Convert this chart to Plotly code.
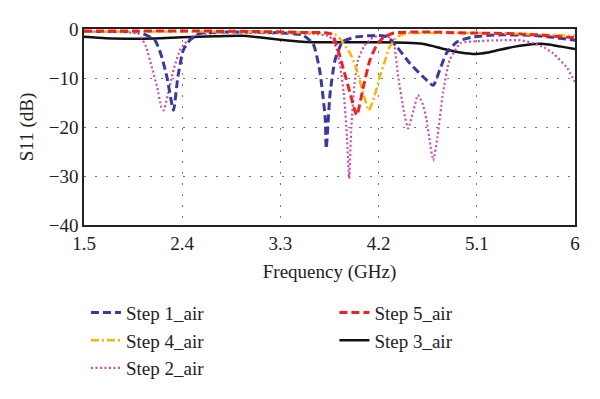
import plotly.graph_objects as go

# ---- data ----
f_step1 = [1.5, 1.8, 2.0, 2.15, 2.21, 2.26, 2.32, 2.36, 2.41, 2.47, 2.56, 3.0, 3.3, 3.5, 3.6, 3.66, 3.71, 3.72, 3.755, 3.80, 3.87, 4.0, 4.18, 4.28, 4.37, 4.49, 4.61, 4.70, 4.76, 4.82, 4.92, 5.07, 5.3, 5.6, 5.8, 6.0]
s_step1 = [-0.5, -0.5, -0.6, -2.3, -5.5, -9.8, -16.6, -9.8, -4.3, -2.3, -0.9, -0.6, -0.8, -1.2, -3.0, -8.4, -18.0, -24.4, -13.2, -6.4, -2.6, -1.6, -1.3, -1.6, -3.7, -7.1, -9.8, -11.5, -8.4, -5.0, -2.6, -1.6, -1.2, -1.3, -1.7, -2.3]

f_step5 = [1.5, 2.0, 2.5, 3.0, 3.5, 3.77, 3.88, 3.94, 4.0, 4.06, 4.12, 4.18, 4.25, 4.34, 4.6, 5.0, 5.5, 6.0]
s_step5 = [-0.4, -0.4, -0.4, -0.5, -0.7, -1.1, -8.4, -13.2, -17.6, -11.8, -6.4, -3.4, -1.6, -0.8, -0.6, -0.8, -1.0, -1.8]

f_step4 = [1.5, 2.0, 2.5, 3.0, 3.5, 3.8, 3.85, 3.94, 4.0, 4.06, 4.11, 4.16, 4.21, 4.26, 4.30, 4.37, 4.45, 5.0, 5.5, 6.0]
s_step4 = [-0.5, -0.5, -0.5, -0.6, -0.7, -1.1, -2.1, -5.0, -8.4, -13.2, -16.6, -13.9, -9.8, -6.4, -3.7, -1.6, -0.9, -0.8, -1.0, -1.4]

f_step2 = [1.5, 1.8, 2.0, 2.07, 2.12, 2.17, 2.21, 2.23, 2.27, 2.32, 2.38, 2.44, 2.52, 2.8, 3.1, 3.4, 3.6, 3.75, 3.81, 3.85, 3.88, 3.91, 3.93, 3.95, 3.98, 4.01, 4.07, 4.13, 4.2, 4.28, 4.33, 4.38, 4.43, 4.47, 4.52, 4.56, 4.6, 4.64, 4.67, 4.70, 4.74, 4.79, 4.85, 4.95, 5.1, 5.3, 5.5, 5.62, 5.72, 5.80, 5.92, 6.0]
s_step2 = [-0.5, -0.6, -1.0, -3.7, -7.7, -11.8, -16.0, -16.6, -13.2, -8.4, -4.3, -2.6, -1.3, -0.7, -0.8, -0.9, -1.0, -1.5, -3.7, -8.0, -13.0, -22.0, -30.5, -20.0, -11.0, -6.4, -3.4, -2.0, -1.4, -1.6, -2.1, -9.8, -16.6, -20.3, -16.6, -13.5, -15.0, -18.6, -23.0, -26.8, -22.0, -13.0, -6.4, -2.9, -2.5, -2.3, -2.3, -2.9, -3.8, -5.0, -7.7, -10.8]

f_step3 = [1.5, 1.7, 2.0, 2.2, 2.4, 2.7, 2.95, 3.1, 3.3, 3.5, 3.65, 3.9, 4.2, 4.45, 4.6, 4.7, 4.8, 4.95, 5.1, 5.2, 5.3, 5.45, 5.6, 5.7, 5.8, 5.9, 6.0]
s_step3 = [-1.6, -1.9, -2.0, -1.9, -1.7, -1.5, -1.4, -1.7, -2.2, -2.6, -2.7, -2.7, -2.7, -2.8, -3.0, -3.5, -4.1, -4.8, -5.1, -4.8, -4.3, -3.6, -3.1, -3.0, -3.3, -3.7, -4.1]

x_ticks = [1.5, 2.4, 3.3, 4.2, 5.1, 6]
x_ticklabels = ["1.5", "2.4", "3.3", "4.2", "5.1", "6"]
y_ticks = [0, -10, -20, -30, -40]
y_ticklabels = ["0", "\u221210", "\u221220", "\u221230", "\u221240"]

FONT = "Liberation Serif"
FS = 19

fig = go.Figure()

# draw order: black, pink, blue, orange, red (red on top)
fig.add_trace(go.Scatter(x=f_step3, y=s_step3, name="Step 3_air", mode="lines",
                         line=dict(color="#111111", width=2.5, shape="spline", smoothing=0.6),
                         legend="legend2", legendrank=2, legendgroup="g5"))
fig.add_trace(go.Scatter(x=f_step2, y=s_step2, name="Step 2_air", mode="lines",
                         line=dict(color="#D04AAE", width=2.2, dash="2px,2.5px", shape="spline", smoothing=0.5),
                         legend="legend", legendrank=3, legendgroup="g3"))
fig.add_trace(go.Scatter(x=f_step1, y=s_step1, name="Step 1_air", mode="lines",
                         line=dict(color="#3A3A9E", width=3, dash="8px,4px", shape="spline", smoothing=0.5),
                         legend="legend", legendrank=1, legendgroup="g1"))
fig.add_trace(go.Scatter(x=f_step4, y=s_step4, name="Step 4_air", mode="lines",
                         line=dict(color="#F7B500", width=2.5, dash="8px,3px,2px,3px", shape="spline", smoothing=0.5),
                         legend="legend", legendrank=2, legendgroup="g2"))
fig.add_trace(go.Scatter(x=f_step5, y=s_step5, name="Step 5_air", mode="lines",
                         line=dict(color="#EE2222", width=3, dash="8px,4px", shape="spline", smoothing=0.5),
                         legend="legend2", legendrank=1, legendgroup="g4"))

fig.update_layout(
    width=600, height=399,
    margin=dict(l=76, r=33, t=21, b=182, autoexpand=False),
    paper_bgcolor="white", plot_bgcolor="white",
    font=dict(family=FONT, size=FS, color="#222222"),
    xaxis=dict(range=[1.5, 6], tickvals=x_ticks, ticktext=x_ticklabels,
               showgrid=True, gridcolor="#777777", gridwidth=1.3, griddash="2px,9px",
               showline=True, linecolor="#222222", linewidth=1.5, mirror=True,
               ticks="", zeroline=False,
               title=dict(text="Frequency (GHz)", standoff=12, font=dict(size=FS)),
               tickfont=dict(size=FS)),
    yaxis=dict(range=[-40, 0], tickvals=y_ticks, ticktext=y_ticklabels,
               showgrid=True, gridcolor="#777777", gridwidth=1.3, griddash="2px,9px",
               showline=True, linecolor="#222222", linewidth=1.5, mirror=True,
               ticks="", zeroline=False,
               title=dict(text="S11 (dB)", standoff=10, font=dict(size=FS)),
               tickfont=dict(size=FS)),
    legend=dict(x=0.004, y=-0.35, xanchor="left", yanchor="top",
                orientation="v", tracegroupgap=0, font=dict(size=FS),
                bgcolor="rgba(0,0,0,0)", itemwidth=30),
    legend2=dict(x=0.51, y=-0.35, xanchor="left", yanchor="top",
                 orientation="v", tracegroupgap=0, font=dict(size=FS),
                 bgcolor="rgba(0,0,0,0)", itemwidth=30),
)

fig.write_html("out.html")
